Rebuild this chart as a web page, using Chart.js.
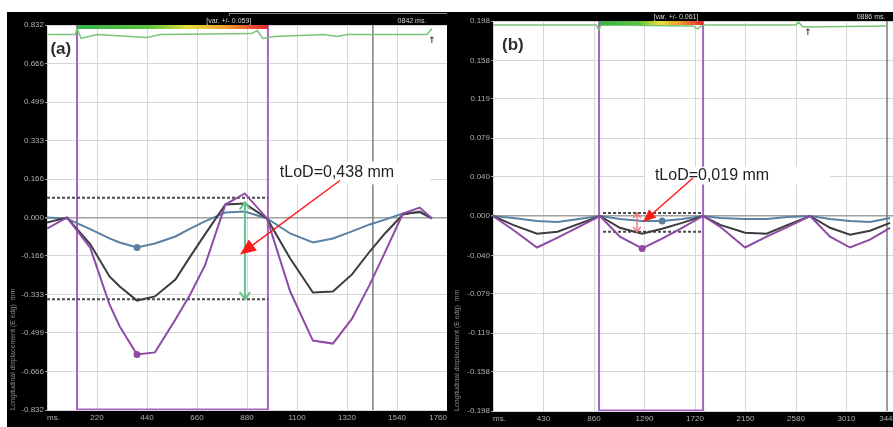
<!DOCTYPE html>
<html>
<head>
<meta charset="utf-8">
<script src="https://cdn.jsdelivr.net/npm/chart.js@4.4.1/dist/chart.umd.min.js"></script>
<style>
html, body { margin: 0; padding: 0; width: 893px; height: 427px; overflow: hidden; background: #fff; position: relative; }
canvas { position: absolute; background: #000; }
#chartA { left: 7px; top: 12px; }
#chartB { left: 447px; top: 12px; }
</style>
</head>
<body>
<canvas id="chartA" width="440" height="415"></canvas>
<canvas id="chartB" width="450" height="415"></canvas>
<script>
const FONT = "'Liberation Sans', Arial, sans-serif";
const Y_TITLE = 'Longitudinal displacement (E edg)  mm';

// ---- panel (a) ----
const aXTicks = [0, 220, 440, 660, 880, 1100, 1320, 1540, 1760];
const aYTicks = [-0.832, -0.666, -0.499, -0.333, -0.166, 0, 0.166, 0.333, 0.499, 0.666, 0.832];
const aTime   = [0, 88, 190, 275, 320, 396, 475, 565, 630, 695, 785, 870, 968, 1070, 1170, 1258, 1342, 1420, 1487, 1566, 1640, 1694];
const aBlue   = [0, -0.005, -0.05, -0.09, -0.108, -0.13, -0.112, -0.082, -0.048, -0.017, 0.022, 0.026, -0.004, -0.069, -0.108, -0.091, -0.06, -0.03, -0.009, 0.017, 0.022, -0.004];
const aDark   = [-0.022, 0, -0.115, -0.255, -0.298, -0.359, -0.341, -0.268, -0.169, -0.073, 0.056, 0.06, -0.004, -0.177, -0.324, -0.32, -0.246, -0.147, -0.069, 0.013, 0.026, -0.004];
const aPurple = [-0.048, 0, -0.13, -0.376, -0.471, -0.592, -0.583, -0.441, -0.333, -0.207, 0.056, 0.104, -0.004, -0.32, -0.532, -0.545, -0.437, -0.29, -0.151, 0.017, 0.043, -0.004];
const aMarkBlue = 5;
const aMarkPurple = 5;
const aTopTime = [5, 125, 132, 150, 220, 440, 500, 900, 925, 950, 1000, 1220, 1276, 1320, 1672, 1694];
const aTop     = [0.791, 0.791, 0.817, 0.774, 0.791, 0.778, 0.791, 0.795, 0.808, 0.774, 0.782, 0.791, 0.782, 0.791, 0.791, 0.817];
const aGate = [132, 972];
const aCursor = 1434;
const aDashTop = 0.085;
const aDashBottom = -0.353;
const aDashRange = [0, 972];
const aSpanX = 871;
const aSpanTop = 0.065;

// ---- panel (b) ----
const bXTicks = [0, 430, 860, 1290, 1720, 2150, 2580, 3010, 3440];
const bYTicks = [-0.198, -0.158, -0.119, -0.079, -0.040, 0, 0.040, 0.079, 0.119, 0.158, 0.198];
const bTime   = [0, 170, 375, 550, 730, 911, 1080, 1270, 1440, 1610, 1789, 1935, 2146, 2330, 2510, 2700, 2870, 3040, 3210, 3381];
const bBlue   = [0, -0.002, -0.005, -0.006, -0.003, 0, -0.003, -0.005, -0.005, -0.003, 0, -0.002, -0.003, -0.003, -0.001, 0, -0.003, -0.005, -0.006, -0.002];
const bDark   = [0, -0.009, -0.018, -0.016, -0.008, 0, -0.012, -0.018, -0.013, -0.007, 0, -0.009, -0.017, -0.018, -0.009, 0, -0.012, -0.019, -0.015, -0.007];
const bPurple = [0, -0.014, -0.032, -0.022, -0.011, 0, -0.021, -0.033, -0.023, -0.012, 0, -0.011, -0.032, -0.021, -0.011, 0, -0.021, -0.032, -0.024, -0.012];
const bMarkBlue = 8;
const bMarkPurple = 7;
const bTopTime = [0, 880, 900, 920, 1700, 1740, 1789, 2580, 2600, 2640, 3355];
const bTop     = [0.194, 0.194, 0.189, 0.194, 0.193, 0.190, 0.194, 0.194, 0.197, 0.192, 0.193];
const bGate = [903, 1789];
const bCursor = 3355;
const bDashTop = 0.003;
const bDashBottom = -0.016;
const bDashRange = [937, 1789];
const bSpanX = 1226;

function lodText(top, bottom) {
    return 'tLoD=' + (top - bottom).toFixed(3).replace('.', ',') + ' mm';
}

function pts(xs, ys) {
    return xs.map((x, i) => ({ x, y: ys[i] }));
}

function line(data, color, width, extra) {
    return Object.assign({
        data,
        borderColor: color,
        backgroundColor: color,
        pointBackgroundColor: color,
        borderWidth: width,
        pointRadius: 0,
        tension: 0,
        fill: false,
    }, extra || {});
}

function drawHead(ctx, fx, fy, tx, ty, len, half, filled) {
    const ang = Math.atan2(ty - fy, tx - fx);
    const bx = tx - len * Math.cos(ang);
    const by = ty - len * Math.sin(ang);
    const ox = -Math.sin(ang) * half;
    const oy = Math.cos(ang) * half;
    ctx.beginPath();
    ctx.moveTo(bx + ox, by + oy);
    ctx.lineTo(tx, ty);
    ctx.lineTo(bx - ox, by - oy);
    if (filled) {
        ctx.closePath();
        ctx.fill();
    } else {
        ctx.stroke();
    }
}

// white plot area, header strip, labels and arrows
const panelDecor = {
    id: 'panelDecor',
    beforeDraw(chart) {
        const { ctx, chartArea: a } = chart;
        ctx.save();
        ctx.fillStyle = '#ffffff';
        ctx.fillRect(a.left, a.top, a.right - a.left, a.bottom - a.top);
        ctx.restore();
    },
    afterDatasetsDraw(chart, args, o) {
        const { ctx, chartArea: a, scales: { x, y } } = chart;
        const px = v => x.getPixelForValue(v);
        const py = v => y.getPixelForValue(v);
        ctx.save();

        // gate colour bar
        const g0 = px(o.gate[0]);
        const g1 = px(o.gate[1]);
        const grad = ctx.createLinearGradient(g0, 0, g1, 0);
        grad.addColorStop(0, '#36b24b');
        grad.addColorStop(0.38, '#5cc13e');
        grad.addColorStop(0.58, '#e4df3a');
        grad.addColorStop(0.78, '#f29a30');
        grad.addColorStop(1, '#e3262b');
        ctx.fillStyle = grad;
        ctx.fillRect(g0, a.top, g1 - g0, 4);

        // header strip texts
        ctx.font = `7px ${FONT}`;
        ctx.fillStyle = '#d6d6d6';
        ctx.textAlign = 'center';
        ctx.textBaseline = 'bottom';
        o.header.forEach(h => ctx.fillText(h.text, px(h.x), a.top));

        if (o.tabFrom != null) {
            ctx.strokeStyle = '#8a8a8a';
            ctx.lineWidth = 1;
            ctx.beginPath();
            ctx.moveTo(px(o.tabFrom) + 0.5, 4);
            ctx.lineTo(px(o.tabFrom) + 0.5, 1.5);
            ctx.lineTo(a.right, 1.5);
            ctx.stroke();
        }

        // panel tag
        ctx.font = `bold 17px ${FONT}`;
        ctx.fillStyle = '#2e2e2e';
        ctx.textAlign = 'left';
        ctx.textBaseline = 'middle';
        ctx.fillText(o.tag, px(o.tagAt[0]), py(o.tagAt[1]));

        // double arrow between the two levels
        const sx = px(o.span.x);
        const sTop = py(o.span.top);
        const sBot = py(o.span.bottom);
        ctx.strokeStyle = o.span.color;
        ctx.lineWidth = o.span.width;
        ctx.beginPath();
        ctx.moveTo(sx, sTop);
        ctx.lineTo(sx, sBot);
        ctx.stroke();
        drawHead(ctx, sx, sBot, sx, sTop, o.span.head, o.span.head * 0.75, false);
        drawHead(ctx, sx, sTop, sx, sBot, o.span.head, o.span.head * 0.75, false);

        // label box
        ctx.fillStyle = '#ffffff';
        const bx0 = px(o.box[0]), bx1 = px(o.box[1]);
        const by0 = py(o.box[2]), by1 = py(o.box[3]);
        ctx.fillRect(bx0, by0, bx1 - bx0, by1 - by0);
        ctx.font = `16px ${FONT}`;
        ctx.fillStyle = '#222222';
        ctx.textAlign = 'center';
        ctx.textBaseline = 'middle';
        ctx.fillText(o.text, px(o.textAt[0]), py(o.textAt[1]));

        // red pointer
        const fx = px(o.pointer[0]), fy = py(o.pointer[1]);
        const tx = px(o.pointer[2]), ty = py(o.pointer[3]);
        const ang = Math.atan2(ty - fy, tx - fx);
        ctx.strokeStyle = '#ff1a1a';
        ctx.fillStyle = '#ff1a1a';
        ctx.lineWidth = 1.5;
        ctx.beginPath();
        ctx.moveTo(fx, fy);
        ctx.lineTo(tx - (o.pointerHead - 2) * Math.cos(ang), ty - (o.pointerHead - 2) * Math.sin(ang));
        ctx.stroke();
        drawHead(ctx, fx, fy, tx, ty, o.pointerHead, o.pointerHead * 0.42, true);

        // small marker arrow on the top trace
        ctx.font = `bold 9px 'DejaVu Sans', sans-serif`;
        ctx.fillStyle = '#444444';
        ctx.textAlign = 'center';
        ctx.textBaseline = 'middle';
        ctx.fillText('\u2191', px(o.flag[0]), py(o.flag[1]));

        ctx.restore();
    }
};

function makePanel(id, p) {
    const lo = p.yTicks[0];
    const hi = p.yTicks[p.yTicks.length - 1];
    const marker = idx => c => (c.dataIndex === idx ? 2.5 : 0);
    const gateColor = '#a862bf';

    return new Chart(document.getElementById(id), {
        type: 'line',
        data: {
            datasets: [
                line(pts(p.time, p.purple), '#8d4ba5', 2, { pointRadius: marker(p.markPurple) }),
                line(pts(p.time, p.dark), '#3c3c3c', 2),
                line(pts(p.time, p.blue), '#5a80a3', 2, { pointRadius: marker(p.markBlue) }),
                line([{ x: p.dashRange[0], y: p.dashTop }, { x: p.dashRange[1], y: p.dashTop }], '#4a4a4a', 2, { borderDash: [3, 2] }),
                line([{ x: p.dashRange[0], y: p.dashBottom }, { x: p.dashRange[1], y: p.dashBottom }], '#4a4a4a', 2, { borderDash: [3, 2] }),
                line(pts(p.topTime, p.top), '#79c47a', 1.5),
                line([{ x: p.gate[0], y: lo }, { x: p.gate[0], y: hi }], gateColor, 2),
                line([{ x: p.gate[1], y: lo }, { x: p.gate[1], y: hi }], gateColor, 2),
                line([{ x: p.gate[0], y: lo }, { x: p.gate[1], y: lo }], gateColor, 3),
                line([{ x: p.cursor, y: lo }, { x: p.cursor, y: hi }], '#7d7d7d', 1.5),
            ]
        },
        options: {
            responsive: false,
            animation: false,
            events: [],
            layout: { padding: { top: p.padTop, left: 0, right: 0, bottom: 0 } },
            plugins: {
                legend: { display: false },
                tooltip: { enabled: false },
                panelDecor: p.decor,
            },
            scales: {
                x: {
                    type: 'linear',
                    min: p.xTicks[0],
                    max: p.xTicks[p.xTicks.length - 1],
                    afterBuildTicks: s => { s.ticks = p.xTicks.map(v => ({ value: v })); },
                    afterFit: s => { s.height = p.xHeight; },
                    border: { display: false },
                    grid: { color: '#d6d6d6', lineWidth: 1, drawTicks: true, tickLength: 3, tickColor: 'rgba(0,0,0,0)' },
                    ticks: {
                        color: '#b0b0b0',
                        font: { family: FONT, size: 8 },
                        padding: 0,
                        align: 'inner',
                        maxRotation: 0,
                        autoSkip: false,
                        callback: v => (v === 0 ? 'ms.' : String(v)),
                    },
                },
                y: {
                    min: lo,
                    max: hi,
                    afterBuildTicks: s => { s.ticks = p.yTicks.map(v => ({ value: v })); },
                    afterFit: s => { s.width = p.yWidth; },
                    border: { display: false },
                    grid: {
                        color: c => (c.tick && c.tick.value === 0 ? '#a0a0a0' : '#d6d6d6'),
                        lineWidth: c => (c.tick && c.tick.value === 0 ? 1.5 : 1),
                        tickLength: 2,
                        tickColor: '#9a9a9a',
                    },
                    ticks: {
                        color: '#b0b0b0',
                        font: { family: FONT, size: 8 },
                        padding: 1,
                        callback: v => v.toFixed(3),
                    },
                    title: {
                        display: true,
                        text: Y_TITLE,
                        align: 'start',
                        color: '#8a8a8a',
                        font: { family: FONT, size: 7 },
                        padding: { top: p.titlePad, bottom: 0 },
                    },
                },
            },
        },
        plugins: [panelDecor],
    });
}

makePanel('chartA', {
    xTicks: aXTicks, yTicks: aYTicks,
    time: aTime, blue: aBlue, dark: aDark, purple: aPurple,
    markBlue: aMarkBlue, markPurple: aMarkPurple,
    topTime: aTopTime, top: aTop,
    gate: aGate, cursor: aCursor,
    dashTop: aDashTop, dashBottom: aDashBottom, dashRange: aDashRange,
    padTop: 13, xHeight: 17, yWidth: 40, titlePad: 1.5,
    decor: {
        tag: '(a)',
        tagAt: [15, 0.725],
        gate: aGate,
        header: [{ x: 800, text: '[var. +/- 0.059]' }, { x: 1606, text: '0842 ms.' }],
        tabFrom: 800,
        span: { x: aSpanX, top: aSpanTop, bottom: aDashBottom, color: '#66c28e', width: 2, head: 7 },
        box: [981, 1685, 0.242, 0.143],
        text: lodText(aDashTop, aDashBottom),
        textAt: [1276, 0.194],
        pointer: [1289, 0.16, 849, -0.16],
        pointerHead: 16,
        flag: [1694, 0.765],
    },
});

makePanel('chartB', {
    xTicks: bXTicks, yTicks: bYTicks,
    time: bTime, blue: bBlue, dark: bDark, purple: bPurple,
    markBlue: bMarkBlue, markPurple: bMarkPurple,
    topTime: bTopTime, top: bTop,
    gate: bGate, cursor: bCursor,
    dashTop: bDashTop, dashBottom: bDashBottom, dashRange: bDashRange,
    padTop: 9, xHeight: 16, yWidth: 46, titlePad: 6,
    decor: {
        tag: '(b)',
        tagAt: [77, 0.173],
        gate: bGate,
        header: [{ x: 1558, text: '[var. +/- 0.061]' }, { x: 3219, text: '0886 ms.' }],
        tabFrom: null,
        span: { x: bSpanX, top: bDashTop, bottom: bDashBottom, color: '#ef7b7b', width: 1.5, head: 5 },
        box: [1294, 2870, 0.050, 0.032],
        text: lodText(bDashTop, bDashBottom),
        textAt: [1865, 0.041],
        pointer: [1703, 0.0386, 1277, -0.0061],
        pointerHead: 13,
        flag: [2683, 0.186],
    },
});
</script>
</body>
</html>
